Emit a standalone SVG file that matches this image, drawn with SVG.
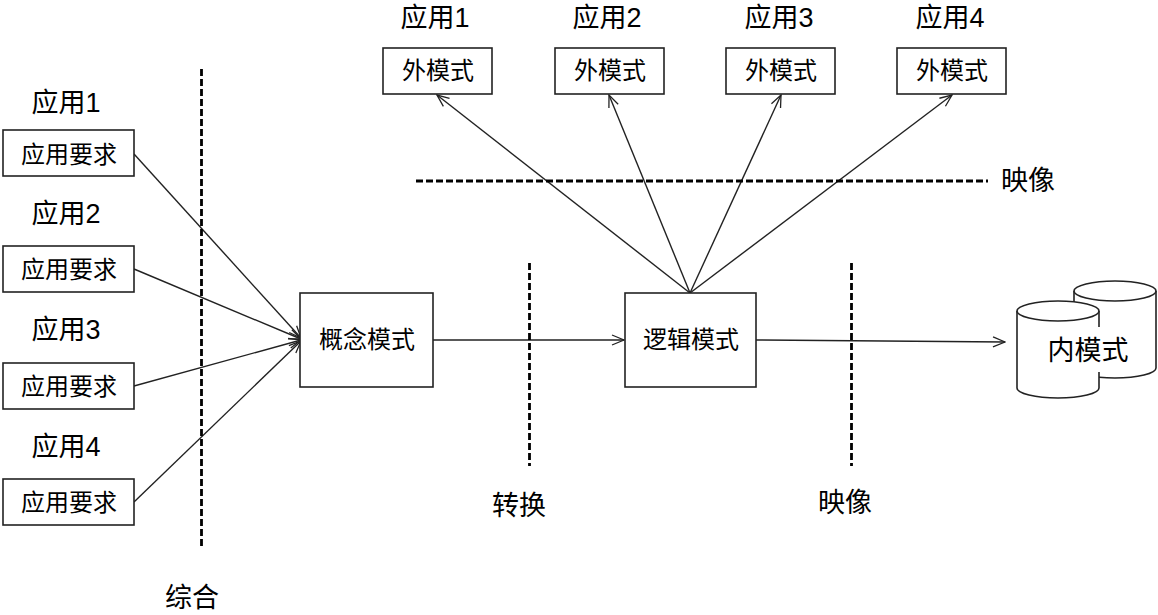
<svg xmlns="http://www.w3.org/2000/svg" width="1158" height="615" viewBox="0 0 1158 615">
<defs><marker id="a" markerWidth="14" markerHeight="12" refX="13" refY="6" orient="auto" markerUnits="userSpaceOnUse"><path d="M1 1L13 6L1 11" fill="none" stroke="#222" stroke-width="1.3"/></marker></defs>
<style>
text{font-family:"Liberation Sans","Noto Sans CJK SC",sans-serif;font-size:27px;fill:#000;text-anchor:middle}
text.s{font-size:24px}
.b{fill:#fff;stroke:#222;stroke-width:1.6}
.c{fill:none;stroke:#222;stroke-width:1.4;marker-end:url(#a)}
.d{fill:none;stroke:#000;stroke-width:2.8;stroke-dasharray:7 3}
</style>
<rect width="1158" height="615" fill="#fff"/>
<g id="connectors">
<path class="c" d="M134 154L301 338"/><path class="c" d="M134 269L301 339"/><path class="c" d="M134 386L301 340"/><path class="c" d="M134 502L301 341"/>
<path class="c" d="M433 340H624"/><path class="c" d="M756 340L1005 342"/>
<path class="c" d="M690 293L437 95"/><path class="c" d="M690 293L609 95"/><path class="c" d="M690 293L781 95"/><path class="c" d="M690 293L952 95"/>
<path class="d" d="M201.5 69V549"/><path class="d" d="M416 181H988"/><path class="d" d="M529.5 263V466"/><path class="d" d="M851.5 263V466"/>
</g>
<g id="app1"><text x="66" y="112">应用1</text><rect class="b" x="3" y="130" width="131" height="46"/><text class="s" x="69" y="163">应用要求</text></g>
<g id="app2"><text x="66" y="223">应用2</text><rect class="b" x="3" y="246" width="131" height="46"/><text class="s" x="69" y="278">应用要求</text></g>
<g id="app3"><text x="66" y="339">应用3</text><rect class="b" x="3" y="363" width="131" height="46"/><text class="s" x="69" y="395">应用要求</text></g>
<g id="app4"><text x="66" y="456">应用4</text><rect class="b" x="3" y="479" width="131" height="46"/><text class="s" x="69" y="511">应用要求</text></g>
<g id="ext1"><text x="435" y="27">应用1</text><rect class="b" x="383" y="48" width="109" height="46"/><text class="s" x="438" y="79">外模式</text></g>
<g id="ext2"><text x="607" y="27">应用2</text><rect class="b" x="555" y="48" width="109" height="46"/><text class="s" x="610" y="79">外模式</text></g>
<g id="ext3"><text x="779" y="27">应用3</text><rect class="b" x="726" y="48" width="109" height="46"/><text class="s" x="781" y="79">外模式</text></g>
<g id="ext4"><text x="950" y="27">应用4</text><rect class="b" x="897" y="48" width="109" height="46"/><text class="s" x="952" y="79">外模式</text></g>
<g id="conceptual"><rect class="b" x="300" y="293" width="133" height="94"/><text class="s" x="367" y="348">概念模式</text></g>
<g id="logical"><rect class="b" x="625" y="293" width="131" height="94"/><text class="s" x="691" y="348">逻辑模式</text></g>
<g id="internal">
<path class="b" d="M1074 291A41 10 0 0 1 1156 291V368A41 10 0 0 1 1074 368Z"/><path class="b" d="M1074 291A41 10 0 0 0 1156 291"/>
<path class="b" d="M1017 311A41 10 0 0 1 1099 311V388A41 10 0 0 1 1017 388Z"/><path class="b" d="M1017 311A41 10 0 0 0 1099 311"/>
<rect x="1048" y="327" width="80" height="45" fill="#fff"/>
<text x="1088" y="360">内模式</text></g>
<g id="labels"><text x="1028" y="190">映像</text><text x="519" y="515">转换</text><text x="845" y="512">映像</text><text x="192" y="607">综合</text></g>
</svg>
